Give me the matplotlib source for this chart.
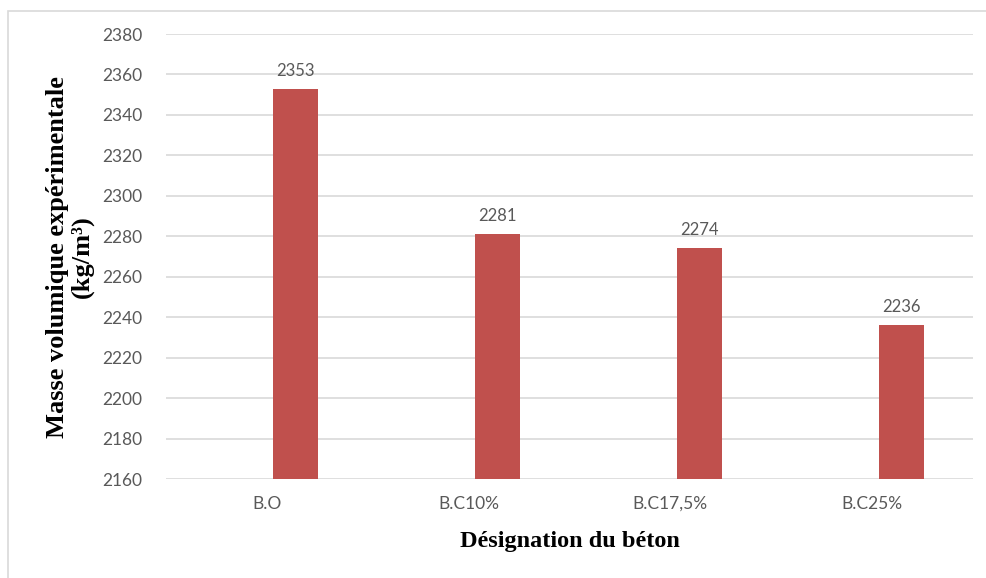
import matplotlib.pyplot as plt
from matplotlib.patches import Rectangle
import numpy as np

categories = ["B.O", "B.C10%", "B.C17,5%", "B.C25%"]
densities = [2353, 2281, 2274, 2236]
yticks = list(range(2160, 2381, 20))

BAR_COLOUR = "#c0504d"
GRID_COLOUR = "#d9d9d9"
TEXT_GREY = "#595959"

plt.rcParams["font.family"] = ["Lato", "DejaVu Sans"]

fig = plt.figure(figsize=(9.87, 5.78), dpi=100)
ax = fig.add_axes([166 / 987, 1 - 479 / 578, (973 - 166) / 987, (479 - 34) / 578])

# outer chart border (Excel style)
fig.patches.append(Rectangle((8 / 987, -0.1), 1.2, 1 - 11 / 578 + 0.1,
                             transform=fig.transFigure, fill=False,
                             edgecolor="#d9d9d9", linewidth=1.2))

x = np.arange(len(categories))
ax.bar(x + 0.144, [d - 2160 for d in densities], bottom=2160,
       width=0.223, color=BAR_COLOUR, zorder=3)

for xi, d in zip(x, densities):
    ax.text(xi + 0.144, d + 5, str(d), ha="center", va="bottom",
            fontsize=12, color=TEXT_GREY)

ax.set_xlim(-0.5, len(categories) - 0.5)
ax.set_ylim(2160, 2380)
ax.set_yticks(yticks)
ax.set_xticks(x)
ax.set_xticklabels(categories)
ax.tick_params(axis="both", length=0, labelsize=12.5, labelcolor=TEXT_GREY)
ax.tick_params(axis="y", pad=17)
ax.tick_params(axis="x", pad=12)
ax.grid(axis="y", color=GRID_COLOUR, linewidth=1.2, zorder=0)
for s in ax.spines.values():
    s.set_visible(False)

ax.set_xlabel("Désignation du béton", family=["Liberation Serif"],
              fontsize=17.5, fontweight="bold", color="black", labelpad=14)
fig.text(70 / 987, 1 - 257 / 578, "Masse volumique expérimentale\n(kg/m³)",
         family=["Liberation Serif"], fontsize=19, fontweight="bold",
         rotation=90, ha="center", va="center", linespacing=1.05)

fig.savefig("out.png", dpi=100)
